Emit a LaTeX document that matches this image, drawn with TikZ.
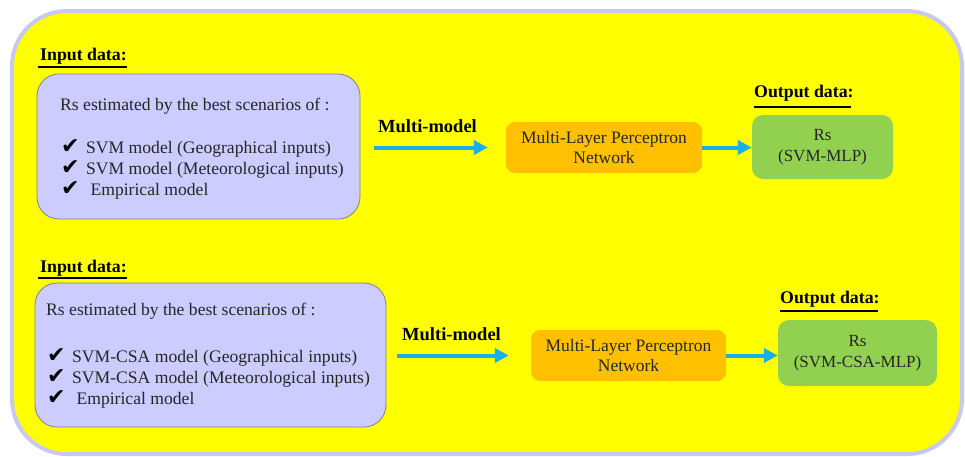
\documentclass[tikz,border=0pt]{standalone}
\usepackage{fontspec}
\setmainfont{Liberation Serif}
\newfontfamily\symfont{DejaVu Sans}
\usetikzlibrary{arrows.meta}
\definecolor{outerfill}{HTML}{FFFF00}
\definecolor{outerline}{HTML}{C8C8F2}
\definecolor{inbox}{HTML}{CCCCFF}
\definecolor{inboxline}{HTML}{7F7FA0}
\definecolor{mlpfill}{HTML}{FFC000}
\definecolor{outfill}{HTML}{92D050}
\definecolor{arrblue}{HTML}{1AAFE8}
\definecolor{txtcol}{HTML}{262626}
\newcommand{\chk}{\makebox[25pt][l]{{\symfont\fontsize{22}{20}\selectfont\color{black}\char"2714}}}
\tikzset{
  txt/.style={inner sep=0pt, text=txtcol, font=\fontsize{17.6}{20}\selectfont},
  hdr/.style={inner sep=0pt, text=black, font=\fontsize{17.8}{20}\selectfont\bfseries},
  mmlabel/.style={inner sep=0pt, text=black, font=\fontsize{18.5}{20}\selectfont\bfseries},
  inputbox/.style={draw=inboxline, line width=0.8pt, fill=inbox, rounded corners=22pt, inner sep=0pt},
  mlpbox/.style={fill=mlpfill, rounded corners=9pt, inner sep=0pt, align=center, text=txtcol, font=\fontsize{17.5}{20.5}\selectfont},
  outbox/.style={fill=outfill, rounded corners=11pt, inner sep=0pt, align=center, text=txtcol, font=\fontsize{17}{21}\selectfont},
  arr/.style={draw=arrblue, line width=4pt, -{Triangle[length=14pt,width=14pt]}},
  uline/.style={line width=2pt, black}
}
\begin{document}
\begin{tikzpicture}[x=1pt,y=-1pt]
\useasboundingbox (0,0) rectangle (965,456);
\fill[white] (0,0) rectangle (965,456);
\draw[line width=4pt, draw=outerline, fill=outerfill, rounded corners=55pt] (12,11) rectangle (962,454);

% ---------- top row ----------
\node[hdr, anchor=base west] (in1) at (40,60) {Input data:};
\coordinate (u1a) at (38,67); \coordinate (u1b) at (127,67);
\draw[uline] (u1a) -- (u1b);
\node[inputbox, minimum width=323pt, minimum height=145pt] (box1) at (198.5,146.5) {};
\node[txt, anchor=base west] (t1a) at (60,110) {Rs estimated by the best scenarios of :};
\node[txt, anchor=base west] (t1b) at (61,153) {\chk SVM model (Geographical inputs)};
\node[txt, anchor=base west] (t1c) at (61,174) {\chk SVM model (Meteorological inputs)};
\node[txt, anchor=base west] (t1d) at (61,195) {\chk\ Empirical model};

\node[mlpbox, minimum width=196pt, minimum height=51pt] (mlp1) at (604,147.5) {Multi-Layer Perceptron\\Network};
\node[mmlabel, anchor=base west] (mm1) at (378,132) {Multi-model};
\draw[arr, shorten <=14pt, shorten >=18pt] (box1.east |- mlp1.west) -- (mlp1.west);

\node[hdr, anchor=base west] (out1) at (754,97) {Output data:};
\coordinate (u2a) at (754,107); \coordinate (u2b) at (851,107);
\draw[uline] (u2a) -- (u2b);
\node[outbox, minimum width=141pt, minimum height=64pt] (res1) at (822.5,147) {Rs\\(SVM-MLP)};
\draw[arr] (mlp1.east) -- (mlp1.east -| res1.west);

% ---------- bottom row ----------
\node[hdr, anchor=base west] (in2) at (40,272) {Input data:};
\coordinate (u3a) at (38,278); \coordinate (u3b) at (127,278);
\draw[uline] (u3a) -- (u3b);
\node[inputbox, minimum width=351pt, minimum height=144pt] (box2) at (210.5,355) {};
\node[txt, anchor=base west] (t2a) at (46,315) {Rs estimated by the best scenarios of :};
\node[txt, anchor=base west] (t2b) at (47,362) {\chk SVM-CSA model (Geographical inputs)};
\node[txt, anchor=base west] (t2c) at (47,383) {\chk SVM-CSA model (Meteorological inputs)};
\node[txt, anchor=base west] (t2d) at (47,404) {\chk\ Empirical model};

\node[mlpbox, minimum width=195pt, minimum height=51pt] (mlp2) at (628.5,355.5) {Multi-Layer Perceptron\\Network};
\node[mmlabel, anchor=base west] (mm2) at (402,340) {Multi-model};
\draw[arr, shorten <=11pt, shorten >=22pt] (box2.east |- mlp2.west) -- (mlp2.west);

\node[hdr, anchor=base west] (out2) at (780,303) {Output data:};
\coordinate (u4a) at (780,311); \coordinate (u4b) at (878,311);
\draw[uline] (u4a) -- (u4b);
\node[outbox, minimum width=159pt, minimum height=66pt] (res2) at (857.5,353) {Rs\\(SVM-CSA-MLP)};
\draw[arr] (mlp2.east) -- (mlp2.east -| res2.west);
\end{tikzpicture}
\end{document}
